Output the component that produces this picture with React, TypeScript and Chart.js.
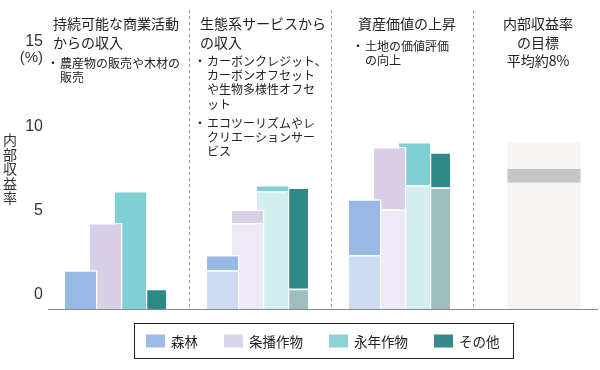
import { useEffect, useRef } from 'react';
import { Chart, registerables } from 'chart.js';

Chart.register(...registerables);

// ---- data ----
const groupNames = ['持続可能な商業活動からの収入', '生態系サービスからの収入', '資産価値の上昇', '内部収益率の目標'];
const seriesNames = ['森林', '条播作物', '永年作物', 'その他'];
// increments of internal rate of return (%) by source, per series
const commercial = [2.3, 5.1, 7.0, 1.2];
const ecosystem = [0.9, 0.8, 0.35, 6.0];
const assetValue = [3.3, 3.7, 2.55, 2.1];
const targetBand = [7.5, 8.3];
const targetRange = [0, 9.85];
const yTicks = [0, 5, 10, 15];

const titleLines = [
  ['持続可能な商業活動', 'からの収入'],
  ['生態系サービスから', 'の収入'],
  ['資産価値の上昇'],
  ['内部収益率', 'の目標', '平均約8%'],
];
const noteBullets = [
  [['農産物の販売や木材の', '販売']],
  [['カーボンクレジット、', 'カーボンオフセット', 'や生物多様性オフセ', 'ット'], ['エコツーリズムやレ', 'クリエーションサー', 'ビス']],
  [['土地の価値評価', 'の向上']],
  [],
];
const yTitle = '内部収益率';
const yUnit = '(%)';

// ---- style ----
const fullColors = ['#98b9e6', '#d9d0e8', '#80cfd3', '#2e8886'];
const lightColors = ['#cddcf2', '#eeeaf5', '#d3eeee', '#9ebdbb'];
const legendColors = ['#9dbde6', '#dbd3ea', '#8dd2d5', '#378a89'];
const FONT = "'Noto Sans CJK JP', 'Noto Sans', sans-serif";

const overlayPlugin = {
  id: 'overlay',
  beforeDatasetsDraw(chart: any) {
    const { ctx } = chart;
    const x = chart.scales.x;
    ctx.save();
    ctx.strokeStyle = '#9a9a9a';
    ctx.lineWidth = 1;
    ctx.setLineDash([3, 3]);
    for (let i = 0; i < groupNames.length - 1; i++) {
      const px = Math.round((x.getPixelForValue(i) + x.getPixelForValue(i + 1)) / 2) + 0.5;
      ctx.beginPath();
      ctx.moveTo(px, 10);
      ctx.lineTo(px, chart.chartArea.bottom);
      ctx.stroke();
    }
    ctx.restore();
  },
  afterDraw(chart: any) {
    const { ctx, chartArea } = chart;
    ctx.save();
    // baseline
    ctx.strokeStyle = '#8a8a8a';
    ctx.lineWidth = 1;
    ctx.beginPath();
    ctx.moveTo(48, Math.round(chartArea.bottom) + 0.5);
    ctx.lineTo(598, Math.round(chartArea.bottom) + 0.5);
    ctx.stroke();

    ctx.textBaseline = 'middle';
    ctx.fillStyle = '#222';
    // group titles and notes
    const textX = [53, 200, 358];
    const noteStart = [63, 61, 46];
    for (let g = 0; g < 3; g++) {
      ctx.font = `14px ${FONT}`;
      ctx.textAlign = 'left';
      titleLines[g].forEach((t, i) => ctx.fillText(t, textX[g], 24 + i * 19));
      ctx.font = `12px ${FONT}`;
      let y = noteStart[g];
      noteBullets[g].forEach((lines) => {
        lines.forEach((t, i) => {
          if (i === 0) ctx.fillText('・', textX[g] - 6, y);
          ctx.fillText(t, textX[g] + 7, y);
          y += 14.4;
        });
        y += 4.5;
      });
    }
    ctx.font = `14px ${FONT}`;
    ctx.textAlign = 'center';
    titleLines[3].forEach((t, i) => ctx.fillText(t, 538, 24 + i * 18.5));

    // y axis title (vertical) and unit
    ctx.fillStyle = '#333';
    ctx.font = `14px ${FONT}`;
    Array.from(yTitle).forEach((c, i) => ctx.fillText(c, 10, 140 + i * 14.5));
    ctx.textAlign = 'right';
    ctx.font = `15px 'Liberation Sans', sans-serif`;
    ctx.fillText(yUnit, 43, 58);

    // legend
    ctx.strokeStyle = '#222';
    ctx.lineWidth = 1;
    ctx.strokeRect(134.5, 323.5, 379, 35);
    ctx.font = `13.5px ${FONT}`;
    ctx.textAlign = 'left';
    let lx = 146;
    seriesNames.forEach((name, s) => {
      ctx.fillStyle = legendColors[s];
      ctx.fillRect(lx, 334.5, 19, 13);
      ctx.fillStyle = '#222';
      ctx.fillText(name, lx + 25, 341.5);
      lx += 19 + 6 + ctx.measureText(name).width + 26;
    });
    ctx.restore();
  },
};

export default function App() {
  const ref = useRef<HTMLCanvasElement>(null);
  useEffect(() => {
    if (!ref.current) return;
    const datasets: any[] = [];
    seriesNames.forEach((name, s) => {
      const cum1 = commercial[s];
      const cum2 = commercial[s] + ecosystem[s];
      const bp = s === 3 ? 0.96 : 1.36;
      const common = {
        stack: name,
        barPercentage: bp,
        categoryPercentage: 0.704,
        borderColor: '#ffffff',
        borderWidth: 1.5,
        borderSkipped: 'start',
        clip: false,
      };
      datasets.push({ ...common, label: name + '（既存）', data: [null, cum1, cum2, null], backgroundColor: lightColors[s] });
      datasets.push({ ...common, label: name, data: [commercial[s], ecosystem[s], assetValue[s], null], backgroundColor: fullColors[s] });
    });
    datasets.push({
      label: '目標',
      data: [null, null, null, targetBand],
      backgroundColor: '#c6c6c6',
      stack: 'targetBand',
      grouped: false,
      categoryPercentage: 0.514,
      barPercentage: 1,
      borderWidth: 0,
      clip: false,
    });
    datasets.push({
      label: '目標範囲',
      data: [null, null, null, targetRange],
      backgroundColor: '#f6f5f4',
      stack: 'targetRange',
      grouped: false,
      categoryPercentage: 0.514,
      barPercentage: 1,
      borderWidth: 0,
      clip: false,
    });

    const chart = new Chart(ref.current, {
      type: 'bar',
      data: { labels: groupNames, datasets },
      options: {
        responsive: false,
        animation: false,
        devicePixelRatio: 1,
        layout: { padding: { top: 56, right: 56, bottom: 61, left: 0 } },
        plugins: { legend: { display: false }, tooltip: { enabled: false } },
        scales: {
          x: { type: 'category', display: false, offset: false, stacked: true },
          y: {
            stacked: true,
            min: 0,
            max: 15,
            afterFit: (s: any) => { s.width = 118; s.paddingTop = 0; s.paddingBottom = 0; },
            afterBuildTicks: (s: any) => { s.ticks = yTicks.map((v) => ({ value: v })); },
            border: { display: false },
            grid: { display: false, drawTicks: false },
            ticks: {
              padding: 75,
              labelOffset: -14,
              color: '#333',
              font: { family: "'Liberation Sans', sans-serif", size: 16 },
            },
          },
        },
      },
      plugins: [overlayPlugin],
    } as any);
    return () => chart.destroy();
  }, []);
  return (
    <div style={{ position: 'absolute', left: 0, top: 0, width: 600, height: 370, background: '#fff' }}>
      <canvas ref={ref} width={600} height={370} />
    </div>
  );
}
